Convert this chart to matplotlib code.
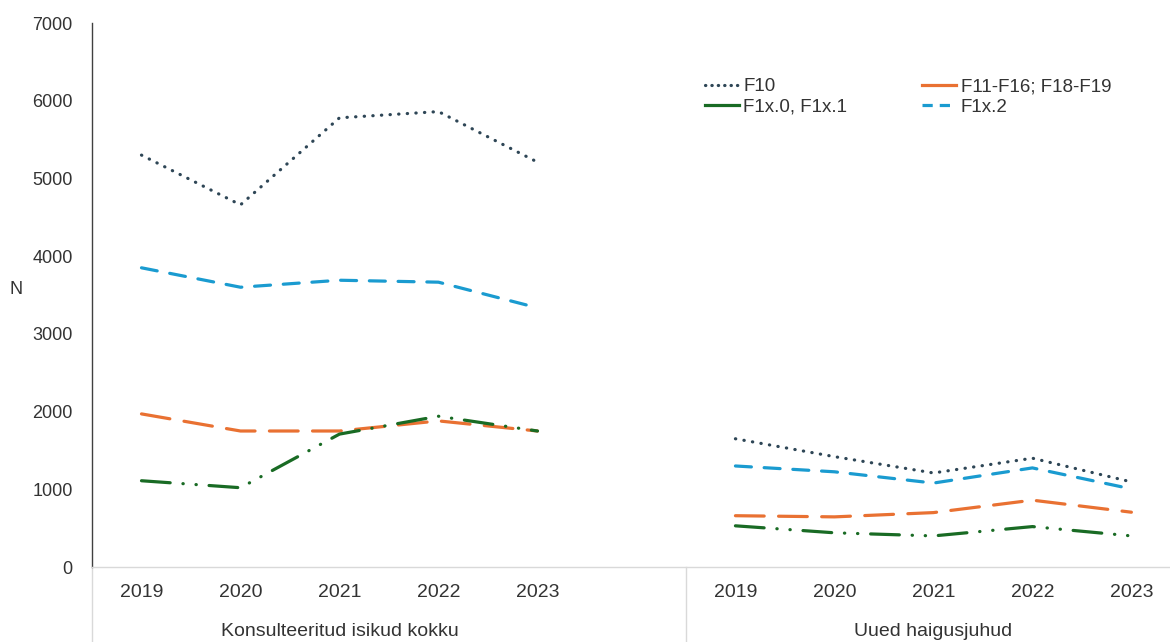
import matplotlib
matplotlib.use("Agg")
import matplotlib.pyplot as plt
from matplotlib.lines import Line2D
import numpy as np

plt.rcParams['font.family'] = ['Liberation Sans', 'DejaVu Sans']

years = ["2019", "2020", "2021", "2022", "2023"]
groups = ["Konsulteeritud isikud kokku", "Uued haigusjuhud"]

# group 1: Konsulteeritud isikud kokku ; group 2: Uued haigusjuhud
f10_total = [5300, 4660, 5780, 5860, 5210]
f10_new = [1650, 1420, 1210, 1400, 1095]
f11_total = [1970, 1750, 1750, 1880, 1750]
f11_new = [660, 645, 700, 860, 705]
f1x01_total = [1110, 1020, 1710, 1940, 1750]
f1x01_new = [530, 440, 400, 520, 400]
f1x2_total = [3850, 3600, 3690, 3665, 3335]
f1x2_new = [1300, 1225, 1080, 1275, 1005]

series = [
    ("F10", f10_total, f10_new, "#2E4656", (0, (0.1, 2.6)), 2.3),
    ("F11-F16; F18-F19", f11_total, f11_new, "#E97132", (0, (9, 4.5)), 2.3),
    ("F1x.0, F1x.1", f1x01_total, f1x01_new, "#196B24", (0, (9, 4, 0.1, 4, 0.1, 4)), 2.3),
    ("F1x.2", f1x2_total, f1x2_new, "#1A9BD0", (0, (5, 4)), 2.3),
]

W, H = 1170, 642
fig = plt.figure(figsize=(W / 100, H / 100), dpi=100)
ax = fig.add_axes([92 / W, 1 - 567 / H, 1 - 92 / W, (567 - 23) / H])

n = len(years)
x1 = np.arange(n)
x2 = np.arange(n) + n + 1
text_col = "#333333"

for name, tot, new, col, ls, lw in series:
    ax.plot(x1, tot, color=col, linestyle=ls, lw=lw, dash_capstyle='round', solid_capstyle='butt')
    ax.plot(x2, new, color=col, linestyle=ls, lw=lw, dash_capstyle='round', solid_capstyle='butt')

ax.set_ylim(0, 7000)
ax.set_yticks(np.arange(0, 7001, 1000))
ax.set_xlim(-0.5, 10.39)
ax.set_xticks(list(x1) + list(x2))
ax.set_xticklabels(years + years)
ax.tick_params(axis='x', length=0, pad=12, labelsize=14, labelcolor=text_col)
ax.tick_params(axis='y', length=0, pad=14, labelsize=13, labelcolor=text_col)

for s in ['top', 'right']:
    ax.spines[s].set_visible(False)
ax.spines['left'].set_color('#404040')
ax.spines['left'].set_linewidth(1.0)
ax.spines['bottom'].set_color('#D9D9D9')
ax.spines['bottom'].set_linewidth(1.0)

ax.set_ylabel("N", rotation=0, fontsize=13, color=text_col)
ax.yaxis.set_label_coords(-76 / (W - 92), 0.495)

trans = ax.get_xaxis_transform()
for xs in [-0.5, n + 0.5]:
    ax.plot([xs, xs], [0, -75 / (567 - 23)], transform=trans, color='#D9D9D9', lw=1.0, clip_on=False)

for gx, g in zip([x1.mean(), x2.mean()], groups):
    ax.text(gx, -65 / (567 - 23), g, transform=trans, ha='center', va='center', fontsize=14, color=text_col)

leg_handles = []
for name, tot, new, col, ls, lw in series:
    if name == "F10":
        h = Line2D([], [], color=col, linestyle=(0, (0.1, 1.9)), lw=2.3, dash_capstyle='round')
    elif name == "F1x.2":
        h = Line2D([], [], color=col, linestyle=(0, (3.2, 2.2)), lw=2.3)
    else:
        h = Line2D([], [], color=col, linestyle='-', lw=2.3)
    leg_handles.append((h, name))

order = [0, 2, 1, 3]
leg = fig.legend([leg_handles[i][0] for i in order], [leg_handles[i][1] for i in order],
                 loc='upper left', bbox_to_anchor=(705 / W, 1 - 78 / H), ncol=2, frameon=False,
                 fontsize=13.5, handlelength=1.8, handletextpad=0.25, columnspacing=4.0,
                 labelspacing=0.2, borderpad=0, borderaxespad=0)
for t in leg.get_texts():
    t.set_color(text_col)

fig.savefig("out.png", dpi=100, facecolor='white')
